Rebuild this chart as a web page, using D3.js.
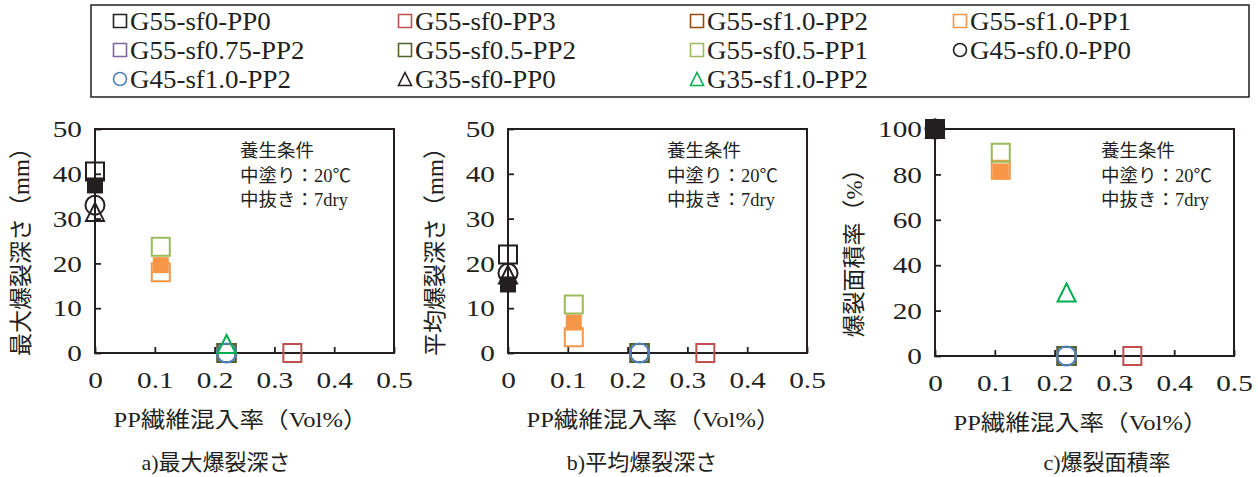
<!DOCTYPE html>
<html>
<head>
<meta charset="utf-8">
<script src="https://cdn.jsdelivr.net/npm/d3@7"></script>
<style>
  body { margin: 0; background: #fff; }
  svg { display: block; font-family: 'Liberation Serif', 'Times New Roman', 'Noto Sans CJK JP', serif; }
</style>
</head>
<body>
<div class="vis-container"></div>
<script>
// Series in drawing order. Two filled series have no legend entry.
const seriesNames = [
  'G55-sf0-PP0', 'G55-sf0-PP3', 'G55-sf1.0-PP2', 'G55-sf1.0-PP1', 'G55-sf1.0-PP1 (filled)',
  'G55-sf0.75-PP2', 'G55-sf0.5-PP2', 'G55-sf0.5-PP1', 'G45-sf0.0-PP0', 'G45-sf1.0-PP2',
  'G35-sf0-PP0', 'G35-sf1.0-PP2', 'G55-sf0-PP0 (filled)'
];
const inLegend = [true, true, true, true, false, true, true, true, true, true, true, true, false];
const shapes = ['square', 'square', 'square', 'square', 'filled', 'square', 'square', 'square',
  'circle', 'circle', 'triangle', 'triangle', 'filled'];
const colors = ['#231f20', '#c0504d', '#984807', '#f79646', '#f79646', '#8064a2', '#4f6228',
  '#9bbb59', '#231f20', '#4f81bd', '#231f20', '#00b050', '#231f20'];

// PP fibre content (Vol%) per series
const ppRate = [0, 0.33, 0.22, 0.11, 0.11, 0.22, 0.22, 0.11, 0, 0.22, 0, 0.22, 0];
// a) max spalling depth (mm)
const maxDepth = [40.5, 0, 0, 18, 19.6, 0, 0, 23.7, 33, 0, 31.5, 2, 37.4];
// b) mean spalling depth (mm)
const avgDepth = [22, 0, 0, 3.5, 6.8, 0, 0, 10.8, 17.8, 0, 17.5, null, 15.3];
// c) spalled area ratio (%)
const spallArea = [100, 0, 0, 82, 81.3, 0, 0, 89.5, 100, 0, 100, 28, 100];

const xTicks = [0, 0.1, 0.2, 0.3, 0.4, 0.5];
const depthTicks = [0, 10, 20, 30, 40, 50];
const areaTicks = [0, 20, 40, 60, 80, 100];
const noteLines = ['養生条件', '中塗り：20℃', '中抜き：7dry'];

const charts = [
  { values: maxDepth, ticks: depthTicks, yTitle: '最大爆裂深さ（mm）', caption: 'a)最大爆裂深さ',
    left: 95, right: 394, top: 129, bottom: 353, yTitleX: 21, noteX: 240, captionX: 216 },
  { values: avgDepth, ticks: depthTicks, yTitle: '平均爆裂深さ（mm）', caption: 'b)平均爆裂深さ',
    left: 508, right: 807, top: 129, bottom: 353, yTitleX: 435, noteX: 667, captionX: 642 },
  { values: spallArea, ticks: areaTicks, yTitle: '爆裂面積率（%）', caption: 'c)爆裂面積率',
    left: 935, right: 1234, top: 129, bottom: 356, yTitleX: 854, noteX: 1101, captionX: 1107 }
];

const ink = '#231f20';
const wide = 1.22; // the numerals in the picture are drawn wider than plain Times
const svg = d3.select('.vis-container').append('svg').attr('width', 1258).attr('height', 477);

function markerPath(shape, s) {
  const h = s / 2;
  if (shape === 'triangle') return `M0,${-h}L${h},${h}L${-h},${h}Z`;
  if (shape === 'circle') return d3.arc()({ innerRadius: 0, outerRadius: h, startAngle: 0, endAngle: 2 * Math.PI });
  return `M${-h},${-h}H${h}V${h}H${-h}Z`;
}

function drawMarker(sel, shape, color, big) {
  if (shape === 'filled') {
    sel.append('path').attr('d', markerPath('square', big ? 16 : 12)).attr('fill', color);
  } else {
    const size = shape === 'circle' ? (big ? 19 : 13) : big ? 18 : 13;
    sel.append('path')
      .attr('d', markerPath(shape, size))
      .attr('fill', 'none')
      .attr('stroke', color)
      .attr('stroke-width', big ? 2 : 1.6)
      .attr('stroke-linejoin', 'miter');
  }
}

// Legend
const legend = svg.append('g').attr('class', 'legend');
legend.append('rect')
  .attr('x', 91).attr('y', 5).attr('width', 1158).attr('height', 92)
  .attr('fill', 'none').attr('stroke', ink).attr('stroke-width', 1.5);

const legendCols = [113, 398, 690, 953];
const legendRows = [21, 50, 79];
const legendItems = seriesNames.map((n, i) => i).filter((i) => inLegend[i]);
legendItems.forEach((idx, k) => {
  const g = legend.append('g')
    .attr('transform', `translate(${legendCols[k % 4] + 7},${legendRows[Math.floor(k / 4)]})`);
  drawMarker(g, shapes[idx], colors[idx], false);
  g.append('text')
    .attr('transform', 'translate(10,0) scale(1.1,1)')
    .attr('dy', '0.35em')
    .attr('font-size', 24.5).attr('fill', ink)
    .text(seriesNames[idx]);
});

charts.forEach((c) => {
  const x = d3.scaleLinear().domain([0, 0.5]).range([c.left, c.right]);
  const y = d3.scaleLinear().domain([0, d3.max(c.ticks)]).range([c.bottom, c.top]);
  const g = svg.append('g');

  g.append('g')
    .attr('transform', `translate(0,${c.bottom})`)
    .call(d3.axisBottom(x).tickValues(xTicks).tickFormat(d3.format('')).tickSizeInner(-6).tickSizeOuter(0).tickPadding(18))
    .attr('font-family', null)
    .call((a) => a.select('.domain').remove())
    .call((a) => a.selectAll('.tick line').attr('stroke', ink).attr('stroke-width', 1.8))
    .call((a) => a.selectAll('.tick text')
      .attr('font-size', 24).attr('fill', ink)
      .attr('transform', `scale(${wide},1)`));

  g.append('g')
    .attr('transform', `translate(${c.left},0)`)
    .call(d3.axisLeft(y).tickValues(c.ticks).tickSizeInner(-6).tickSizeOuter(0).tickPadding(13))
    .attr('font-family', null)
    .call((a) => a.select('.domain').remove())
    .call((a) => a.selectAll('.tick line').attr('stroke', ink).attr('stroke-width', 1.8))
    .call((a) => a.selectAll('.tick text')
      .attr('font-size', 24).attr('fill', ink)
      .attr('x', 0)
      .attr('transform', `translate(-13,0) scale(${wide},1)`));

  g.append('rect')
    .attr('x', c.left).attr('y', c.top)
    .attr('width', c.right - c.left).attr('height', c.bottom - c.top)
    .attr('fill', 'none').attr('stroke', ink).attr('stroke-width', 2);

  // curing note
  g.append('g')
    .selectAll('text')
    .data(noteLines)
    .join('text')
    .attr('x', c.noteX)
    .attr('y', (d, i) => c.top + 22 + i * 24.5)
    .attr('dy', '0.35em')
    .attr('font-size', 18.5)
    .attr('fill', ink)
    .text((d) => d);

  // points
  seriesNames.forEach((n, i) => {
    const v = c.values[i];
    if (v == null) return;
    const m = g.append('g').attr('transform', `translate(${x(ppRate[i])},${y(v)})`);
    drawMarker(m, shapes[i], colors[i], true);
  });

  // axis titles
  g.append('text')
    .attr('transform', `translate(${c.yTitleX},${(c.top + c.bottom) / 2 + 5}) rotate(-90)`)
    .attr('text-anchor', 'middle').attr('dy', '0.35em')
    .attr('font-size', 23).attr('fill', ink)
    .text(c.yTitle);

  g.append('text')
    .attr('transform', `translate(${(c.left + c.right) / 2 - 4},${c.bottom + 66}) scale(1.12,1)`)
    .attr('text-anchor', 'middle').attr('dy', '0.35em')
    .attr('font-size', 22).attr('fill', ink)
    .text('PP繊維混入率（Vol%）');

  g.append('text')
    .attr('x', c.captionX).attr('y', 462)
    .attr('text-anchor', 'middle').attr('dy', '0.35em')
    .attr('font-size', 22).attr('fill', ink)
    .text(c.caption);
});
</script>
</body>
</html>
